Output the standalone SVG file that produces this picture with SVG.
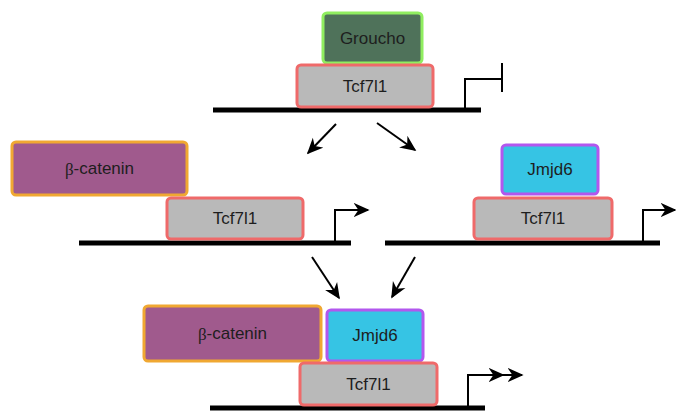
<svg xmlns="http://www.w3.org/2000/svg" width="676" height="411" viewBox="0 0 676 411">
<style>
.box{stroke-width:3}
.tcf{fill:#b9b9b9;stroke:#ef6a6a}
.grou{fill:#4f725a;stroke:#90ee60}
.bcat{fill:#a05a8d;stroke:#f0a832}
.jmjd{fill:#36c4e4;stroke:#b257ee}
text{font-family:"Liberation Sans",Arial,sans-serif;font-size:17px;fill:#1e1e1e;text-anchor:middle;dominant-baseline:central}
.beta{font-family:"Liberation Serif","Times New Roman",serif}
.dna{stroke:#000;stroke-width:5;fill:none}
.prom{stroke:#000;stroke-width:2;fill:none}
.arr{stroke:#000;stroke-width:2;fill:none;marker-end:url(#ah)}
</style>
<defs>
<marker id="ah" viewBox="0 0 10 10" refX="9" refY="5" markerWidth="8" markerHeight="8" markerUnits="strokeWidth" orient="auto">
<path d="M0,0.5 L10,5 L0,9.5 L3,5 Z" fill="#000"/>
</marker>
<marker id="ph" viewBox="0 0 10 10" refX="9" refY="5" markerWidth="8" markerHeight="8" markerUnits="strokeWidth" orient="auto">
<path d="M0,0.5 L10,5 L0,9.5 L3,5 Z" fill="#000"/>
</marker>
</defs>

<g id="top">
<line class="dna" x1="213" y1="110" x2="481" y2="110"/>
<path class="prom" d="M465,110 V79 H502 M502,63 V92"/>
<g id="groucho"><rect class="box grou" x="323" y="13" width="99" height="50" rx="4"/><text x="372.5" y="38">Groucho</text></g>
<g id="tcf-top"><rect class="box tcf" x="297" y="65" width="136" height="42" rx="4"/><text x="365" y="86">Tcf7l1</text></g>
</g>

<g id="left">
<line class="dna" x1="79" y1="243" x2="351" y2="243"/>
<path class="prom" d="M335,243 V210 H368" marker-end="url(#ph)"/>
<g id="bcat-left"><rect class="box bcat" x="12" y="142" width="175" height="53" rx="4"/><text x="99.5" y="168.5"><tspan class="beta">β</tspan>-catenin</text></g>
<g id="tcf-left"><rect class="box tcf" x="167" y="198" width="136" height="41" rx="4"/><text x="235" y="218.5">Tcf7l1</text></g>
</g>

<g id="right">
<line class="dna" x1="385" y1="243" x2="660" y2="243"/>
<path class="prom" d="M643,243 V210 H675" marker-end="url(#ph)"/>
<g id="jmjd-right"><rect class="box jmjd" x="502" y="145" width="96" height="49" rx="4"/><text x="550" y="169.5">Jmjd6</text></g>
<g id="tcf-right"><rect class="box tcf" x="474" y="198" width="138" height="41" rx="4"/><text x="543" y="218.5">Tcf7l1</text></g>
</g>

<g id="bottom">
<line class="dna" x1="210" y1="408" x2="485" y2="408"/>
<path class="prom" d="M468,408 V375 H503" marker-end="url(#ph)"/>
<path class="prom" d="M500,375 H522" marker-end="url(#ph)"/>
<g id="bcat-bot"><rect class="box bcat" x="144" y="306" width="177" height="55" rx="4"/><text x="232.5" y="333.5"><tspan class="beta">β</tspan>-catenin</text></g>
<g id="jmjd-bot"><rect class="box jmjd" x="327" y="310" width="96" height="51" rx="4"/><text x="375" y="335.5">Jmjd6</text></g>
<g id="tcf-bot"><rect class="box tcf" x="300" y="363" width="137" height="42" rx="4"/><text x="368.5" y="384">Tcf7l1</text></g>
</g>

<g id="connectors">
<line class="arr" x1="336" y1="124" x2="308" y2="153"/>
<line class="arr" x1="377" y1="123" x2="415" y2="150"/>
<line class="arr" x1="312" y1="257" x2="339" y2="298"/>
<line class="arr" x1="415" y1="257" x2="392" y2="297"/>
</g>
</svg>
